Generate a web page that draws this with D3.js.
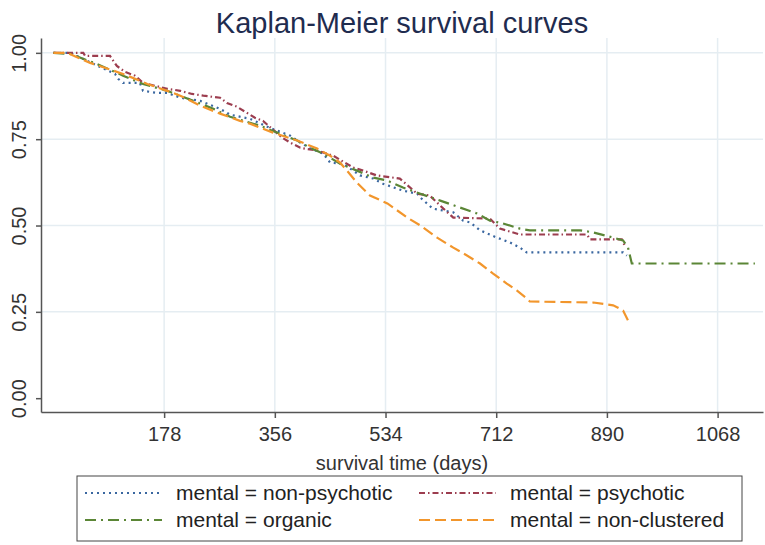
<!DOCTYPE html>
<html>
<head>
<meta charset="utf-8">
<script src="https://cdn.jsdelivr.net/npm/d3@7"></script>
<style>
body { margin: 0; background: #fff; }
text { font-family: "Liberation Sans", Arial, sans-serif; }
</style>
</head>
<body>
<div id="chart"></div>
<script>
var width = 765;
var height = 545;

var titleText = "Kaplan-Meier survival curves";
var xLabel = "survival time (days)";
var xTicks = [178, 356, 534, 712, 890, 1068];
var yTicks = [0, 0.25, 0.5, 0.75, 1];

// survival estimates (days, S(t))
var nonPsychoticDays = [0, 27, 99, 104, 112, 139, 144, 167, 183, 204, 236, 268, 284, 316, 348, 381, 397, 413, 434, 445, 466, 493, 514, 530, 562, 585, 590, 610, 643, 659, 670, 686, 713, 734, 750, 761, 916, 922];
var nonPsychoticSurv = [1, 1, 0.939, 0.925, 0.913, 0.913, 0.890, 0.884, 0.884, 0.870, 0.861, 0.838, 0.821, 0.809, 0.783, 0.760, 0.740, 0.723, 0.708, 0.682, 0.679, 0.645, 0.636, 0.621, 0.601, 0.592, 0.581, 0.549, 0.538, 0.514, 0.509, 0.486, 0.465, 0.451, 0.436, 0.422, 0.422, 0.413];

var psychoticDays = [0, 48, 51, 91, 102, 115, 131, 144, 183, 204, 223, 241, 268, 279, 295, 324, 337, 368, 381, 397, 424, 450, 482, 498, 520, 557, 585, 605, 627, 643, 702, 718, 750, 858, 863, 914, 919];
var psychoticSurv = [1, 1, 0.991, 0.991, 0.962, 0.945, 0.934, 0.913, 0.896, 0.890, 0.881, 0.876, 0.870, 0.855, 0.844, 0.812, 0.803, 0.754, 0.740, 0.725, 0.717, 0.702, 0.668, 0.659, 0.645, 0.636, 0.592, 0.587, 0.549, 0.523, 0.520, 0.491, 0.474, 0.474, 0.460, 0.460, 0.440];

var organicDays = [0, 27, 70, 112, 144, 183, 225, 257, 284, 332, 364, 392, 413, 434, 461, 488, 514, 537, 562, 590, 622, 654, 681, 702, 723, 750, 766, 847, 868, 900, 916, 924, 930, 1128];
var organicSurv = [1, 0.997, 0.968, 0.934, 0.910, 0.890, 0.861, 0.838, 0.815, 0.789, 0.766, 0.746, 0.725, 0.708, 0.679, 0.659, 0.639, 0.630, 0.610, 0.592, 0.572, 0.552, 0.535, 0.514, 0.506, 0.491, 0.486, 0.486, 0.480, 0.465, 0.457, 0.436, 0.390, 0.390];

var nonClusteredDays = [0, 22, 59, 112, 151, 183, 204, 236, 268, 300, 316, 353, 392, 424, 445, 461, 472, 488, 509, 537, 569, 590, 617, 643, 665, 686, 707, 729, 745, 761, 766, 868, 900, 916, 924];
var nonClusteredSurv = [1, 1, 0.971, 0.939, 0.910, 0.890, 0.876, 0.847, 0.824, 0.803, 0.795, 0.769, 0.746, 0.723, 0.702, 0.682, 0.659, 0.624, 0.587, 0.564, 0.523, 0.500, 0.465, 0.436, 0.413, 0.390, 0.361, 0.332, 0.312, 0.289, 0.280, 0.277, 0.269, 0.254, 0.225];

var seriesLabels = ["mental = non-psychotic", "mental = psychotic", "mental = organic", "mental = non-clustered"];
var seriesColors = ["#3a67a0", "#9c3d4f", "#5b8636", "#f2962c"];
var seriesDash = ["2,4", "6,3,1.5,3", "11,5,2,5", "11,5"];

var series = [
    { days: nonPsychoticDays, surv: nonPsychoticSurv },
    { days: psychoticDays, surv: psychoticSurv },
    { days: organicDays, surv: organicSurv },
    { days: nonClusteredDays, surv: nonClusteredSurv }
];

var svg = d3.select("#chart").append("svg")
    .attr("width", width)
    .attr("height", height);

svg.append("rect").attr("width", width).attr("height", height).attr("fill", "#fff");

var plotLeft = 41, plotRight = 763, plotTop = 38, plotBottom = 412;

var x = d3.scaleLinear().domain([-20, 1141]).range([plotLeft, plotRight]);
var y = d3.scaleLinear().domain([-0.04, 1.043]).range([plotBottom, plotTop]);

//Grid
svg.append("g").selectAll("line")
    .data(xTicks)
    .enter().append("line")
    .attr("x1", function(d) { return x(d); })
    .attr("x2", function(d) { return x(d); })
    .attr("y1", plotTop)
    .attr("y2", plotBottom)
    .attr("stroke", "#e5edf2")
    .attr("stroke-width", 1.5);

svg.append("g").selectAll("line")
    .data(yTicks.filter(function(d) { return d > 0; }))
    .enter().append("line")
    .attr("x1", plotLeft)
    .attr("x2", plotRight)
    .attr("y1", function(d) { return y(d); })
    .attr("y2", function(d) { return y(d); })
    .attr("stroke", "#e5edf2")
    .attr("stroke-width", 1.5);

//Curves
var line = d3.line()
    .x(function(d) { return x(d[0]); })
    .y(function(d) { return y(d[1]); });

series.forEach(function(s, i) {
    var pts = s.days.map(function(t, j) { return [t, s.surv[j]]; });
    svg.append("path")
        .datum(pts)
        .attr("d", line)
        .attr("fill", "none")
        .attr("stroke", seriesColors[i])
        .attr("stroke-width", 2.2)
        .attr("stroke-dasharray", seriesDash[i]);
});

//Axes
var xAxis = svg.append("g")
    .attr("transform", "translate(0," + plotBottom + ")")
    .call(d3.axisBottom(x).tickValues(xTicks).tickSize(6).tickSizeOuter(0).tickPadding(9)
        .tickFormat(d3.format("d")));

var yAxis = svg.append("g")
    .attr("transform", "translate(" + plotLeft + ",0)")
    .call(d3.axisLeft(y).tickValues(yTicks).tickSize(5).tickSizeOuter(0)
        .tickFormat(d3.format(".2f")));

[xAxis, yAxis].forEach(function(a) {
    a.select(".domain").attr("stroke", "#555").attr("stroke-width", 1.5);
    a.selectAll(".tick line").attr("stroke", "#555").attr("stroke-width", 1.5);
    a.selectAll("text")
        .attr("fill", "#333")
        .style("font-size", "20px")
        .style("font-family", "'Liberation Sans', Arial, sans-serif");
});

yAxis.selectAll(".tick text")
    .attr("transform", "rotate(-90)")
    .attr("text-anchor", "middle")
    .attr("x", 0)
    .attr("y", -15)
    .attr("dy", 0);

//Title and axis label
svg.append("text")
    .attr("x", (plotLeft + plotRight) / 2)
    .attr("y", 33)
    .attr("text-anchor", "middle")
    .attr("fill", "#1f2c4f")
    .style("font-size", "29px")
    .text(titleText);

svg.append("text")
    .attr("x", (plotLeft + plotRight) / 2)
    .attr("y", 470)
    .attr("text-anchor", "middle")
    .attr("fill", "#333")
    .style("font-size", "20px")
    .text(xLabel);

//Legend
var legend = svg.append("g").attr("transform", "translate(77,476)");
legend.append("rect")
    .attr("width", 665)
    .attr("height", 65)
    .attr("fill", "#fff")
    .attr("stroke", "#444")
    .attr("stroke-width", 1);

var legendCols = [8, 342];
var legendRows = [17, 44];

seriesLabels.forEach(function(lbl, i) {
    var cx = legendCols[i % 2], cy = legendRows[Math.floor(i / 2)];
    legend.append("line")
        .attr("x1", cx)
        .attr("x2", cx + 77)
        .attr("y1", cy)
        .attr("y2", cy)
        .attr("stroke", seriesColors[i])
        .attr("stroke-width", 2.2)
        .attr("stroke-dasharray", seriesDash[i]);
    legend.append("text")
        .attr("x", cx + 91)
        .attr("y", cy + 7)
        .attr("fill", "#222")
        .style("font-size", "21px")
        .text(lbl);
});
</script>
</body>
</html>
